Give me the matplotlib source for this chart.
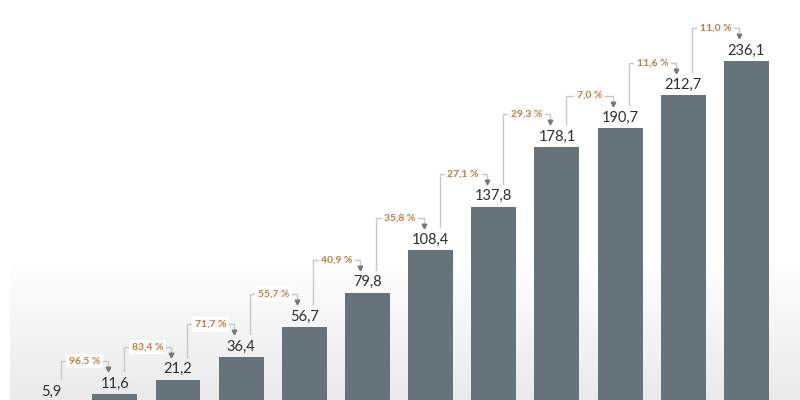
import matplotlib
matplotlib.use("Agg")
import matplotlib.pyplot as plt
import numpy as np
from matplotlib.colors import LinearSegmentedColormap

values = [5.9, 11.6, 21.2, 36.4, 56.7, 79.8, 108.4, 137.8, 178.1, 190.7, 212.7, 236.1]
value_labels = ["5,9", "11,6", "21,2", "36,4", "56,7", "79,8", "108,4", "137,8",
                "178,1", "190,7", "212,7", "236,1"]
growth_labels = ["96,5 %", "83,4 %", "71,7 %", "55,7 %", "40,9 %", "35,8 %",
                 "27,1 %", "29,3 %", "7,0 %", "11,6 %", "11,0 %"]

plt.rcParams['font.family'] = ['Lato', 'DejaVu Sans']

W, H = 800, 400
fig = plt.figure(figsize=(8, 4), dpi=100)
fig.patch.set_facecolor('white')

# background gradient
bg = fig.add_axes([10 / W, 0, 1 - 10 / W, 140 / H], zorder=-5)
grad = np.linspace(0, 1, 256).reshape(-1, 1)
cmap = LinearSegmentedColormap.from_list('g', ['#eaeaea', '#ffffff'])
bg.imshow(grad, aspect='auto', cmap=cmap, origin='lower', extent=[0, 1, 0, 1])
bg.axis('off')

base_px = 411
ymax = 277
ax = fig.add_axes([0, (H - base_px) / H, 1, base_px / H])
ax.set_facecolor('none')
x = np.arange(len(values))
ax.set_xlim(-0.818, 11.848)
ax.set_ylim(0, ymax)
ax.axis('off')

px_x = W / (11.848 + 0.818)
px_y = base_px / ymax

bar_color = '#67737b'
ax.bar(x, values, width=0.712, color=bar_color, zorder=2)

for xi, v, lab in zip(x, values, value_labels):
    ax.annotate(lab, (xi, v), xytext=(0, 4.5), textcoords='offset points',
                ha='center', va='baseline', fontsize=10.5, color='#2e2e2e', zorder=3)

line_color = '#c8c8c8'
arrow_color = '#777777'
for i, g in enumerate(growth_labels):
    v0, v1 = values[i], values[i + 1]
    xl = x[i] + 9 / px_x
    xr = x[i + 1] - 7 / px_x
    yh = v1 + 32.5 / px_y
    yl = v0 + 23 / px_y
    ya = v1 + 24.5 / px_y
    ax.plot([xl, xl, xr, xr], [yl, yh, yh, ya + 1 / px_y], color=line_color, lw=1,
            solid_joinstyle='miter', zorder=1)
    ax.plot([xr], [ya], marker='v', ms=3.3, color=arrow_color, mec=arrow_color, zorder=3)
    ax.text((x[i] + x[i + 1]) / 2 + 1 / px_x, yh, g, ha='center', va='center',
            fontsize=7.5, fontweight='bold', color='#c8783c', zorder=4,
            bbox=dict(boxstyle='square,pad=0.25', fc='white', ec='none'))

fig.savefig('out.png', dpi=100)
